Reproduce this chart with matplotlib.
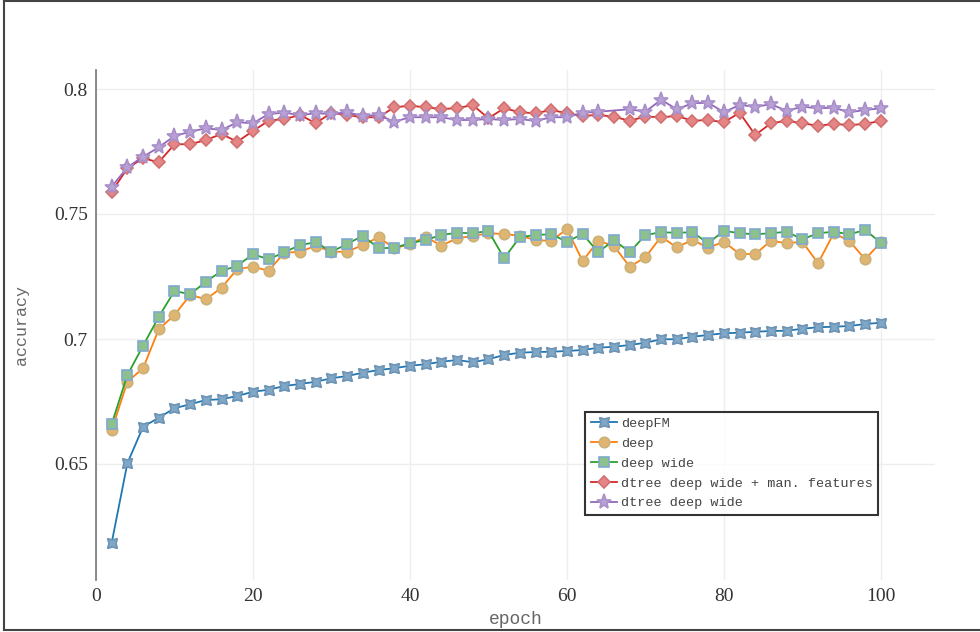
import numpy as np
import matplotlib
matplotlib.use("Agg")
import matplotlib.pyplot as plt
from matplotlib.lines import Line2D

# accuracy per epoch for each model
epochs = list(range(2, 101, 2))

deepfm = [0.6185, 0.6503, 0.6649, 0.6685, 0.6723, 0.6739, 0.6756, 0.6759, 0.6772, 0.6789,
          0.6797, 0.6812, 0.6820, 0.6829, 0.6843, 0.6852, 0.6865, 0.6876, 0.6883, 0.6893,
          0.6899, 0.6909, 0.6916, 0.6907, 0.6919, 0.6936, 0.6945, 0.6948, 0.6949, 0.6952,
          0.6956, 0.6965, 0.6969, 0.6976, 0.6985, 0.6999, 0.6999, 0.7009, 0.7016, 0.7023,
          0.7025, 0.7029, 0.7032, 0.7033, 0.7041, 0.7047, 0.7049, 0.7052, 0.7060, 0.7065]

deep = [0.6636, 0.6829, 0.6883, 0.7039, 0.7096, 0.7176, 0.7159, 0.7205, 0.7280, 0.7289,
        0.7273, 0.7345, 0.7349, 0.7373, 0.7349, 0.7349, 0.7376, 0.7407, 0.7363, 0.7379,
        0.7409, 0.7373, 0.7403, 0.7412, 0.7423, 0.7420, 0.7413, 0.7396, 0.7392, 0.7440,
        0.7312, 0.7393, 0.7372, 0.7289, 0.7327, 0.7409, 0.7367, 0.7396, 0.7365, 0.7389,
        0.7340, 0.7340, 0.7393, 0.7383, 0.7389, 0.7303, 0.7423, 0.7392, 0.7319, 0.7387]

deep_wide = [0.6660, 0.6856, 0.6973, 0.7089, 0.7192, 0.7179, 0.7229, 0.7272, 0.7293, 0.7339,
             0.7319, 0.7347, 0.7376, 0.7387, 0.7349, 0.7380, 0.7413, 0.7363, 0.7365, 0.7383,
             0.7396, 0.7416, 0.7425, 0.7423, 0.7432, 0.7323, 0.7407, 0.7416, 0.7419, 0.7389,
             0.7420, 0.7347, 0.7396, 0.7347, 0.7416, 0.7427, 0.7425, 0.7427, 0.7383, 0.7433,
             0.7423, 0.7419, 0.7423, 0.7429, 0.7399, 0.7423, 0.7429, 0.7419, 0.7436, 0.7385]

dtree_man = [0.7589, 0.7683, 0.7723, 0.7707, 0.7779, 0.7779, 0.7796, 0.7820, 0.7789, 0.7832,
             0.7873, 0.7880, 0.7896, 0.7863, 0.7905, 0.7896, 0.7887, 0.7887, 0.7927, 0.7933,
             0.7927, 0.7920, 0.7923, 0.7936, 0.7883, 0.7923, 0.7907, 0.7903, 0.7916, 0.7903,
             0.7893, 0.7896, 0.7889, 0.7873, 0.7890, 0.7887, 0.7892, 0.7873, 0.7876, 0.7867,
             0.7905, 0.7816, 0.7863, 0.7873, 0.7863, 0.7853, 0.7860, 0.7856, 0.7860, 0.7873]

# epoch 66 was not logged for this run
dtree_epochs = [e for e in epochs if e != 66]
dtree = [0.7609, 0.7687, 0.7729, 0.7767, 0.7812, 0.7829, 0.7843, 0.7836, 0.7867, 0.7863,
         0.7900, 0.7905, 0.7896, 0.7903, 0.7900, 0.7907, 0.7892, 0.7896, 0.7869, 0.7887,
         0.7887, 0.7887, 0.7876, 0.7876, 0.7880, 0.7876, 0.7880, 0.7872, 0.7887, 0.7887,
         0.7905, 0.7909, 0.7919, 0.7909, 0.7957, 0.7919, 0.7943, 0.7945, 0.7907, 0.7936,
         0.7929, 0.7939, 0.7913, 0.7929, 0.7923, 0.7925, 0.7907, 0.7916, 0.7923]

fig = plt.figure(figsize=(9.8, 6.32), dpi=100)
ax = fig.add_axes([96 / 980, 1 - 580 / 632, (935 - 96) / 980, (580 - 70) / 632])

# (x, y, label, line colour, marker, marker size, face colour, edge colour)
series = [
    (epochs, deepfm, "deepFM", "#1f77b4", (4, 1, 45), 10, "#7fa8c8", "#6f93b3"),
    (epochs, deep, "deep", "#ff7f0e", "o", 7.5, "#e0b572", "#c9b27a"),
    (epochs, deep_wide, "deep wide", "#2ca02c", "s", 7.5, "#8cc08c", "#7fa9d0"),
    (epochs, dtree_man, "dtree deep wide + man. features", "#d62728", "D", 6.5, "#e58585", "#d07070"),
    (dtree_epochs, dtree, "dtree deep wide", "#9467bd", "*", 11, "#b9a1d6", "#a890c8"),
]
for x, y, lab, c, m, ms, fc, ec in series:
    ax.plot(x, y, color=c, lw=1.3, marker=m, ms=ms, mfc=fc, mec=ec, mew=1.2,
            label=lab, zorder=3)

ax.set_xlim(0, 106.9)
ax.set_ylim(0.6036, 0.8076)
ax.set_xticks([0, 20, 40, 60, 80, 100])
ax.set_yticks([0.65, 0.7, 0.75, 0.8])
ax.set_yticklabels(["0.65", "0.7", "0.75", "0.8"])
ax.grid(True, color="#eeeeee", lw=1)
ax.set_axisbelow(True)
for s in ["top", "right", "bottom"]:
    ax.spines[s].set_visible(False)
ax.spines["left"].set_color("#777777")
ax.spines["left"].set_linewidth(1.2)
ax.tick_params(length=0, pad=6, labelcolor="#333333")
for t in ax.get_xticklabels() + ax.get_yticklabels():
    t.set_fontfamily("Liberation Serif")
    t.set_fontsize(14)

ax.set_xlabel("epoch", fontfamily="Liberation Mono", fontsize=13, color="#666666", labelpad=4)
ax.set_ylabel("accuracy", fontfamily="Liberation Mono", fontsize=12, color="#666666", labelpad=18)

leg = ax.legend(loc="upper left", bbox_to_anchor=(0.583, 0.329), borderaxespad=0,
                prop={"family": "Liberation Mono", "size": 9.7}, frameon=True, fancybox=False,
                handlelength=2.0, handletextpad=0.25, labelspacing=0.55, borderpad=0.4)
leg.get_frame().set_edgecolor("black")
leg.get_frame().set_linewidth(1.5)
for t in leg.get_texts():
    t.set_color("#444444")

# outer frame around the figure
for xs, ys in [((4 / 980, 1), (1 - 1 / 632, 1 - 1 / 632)),
               ((4 / 980, 4 / 980), (1 - 630 / 632, 1)),
               ((4 / 980, 1), (1 - 630 / 632, 1 - 630 / 632))]:
    fig.add_artist(Line2D(xs, ys, color="#444444", lw=1.5, transform=fig.transFigure))

fig.savefig("out.png", dpi=100)
